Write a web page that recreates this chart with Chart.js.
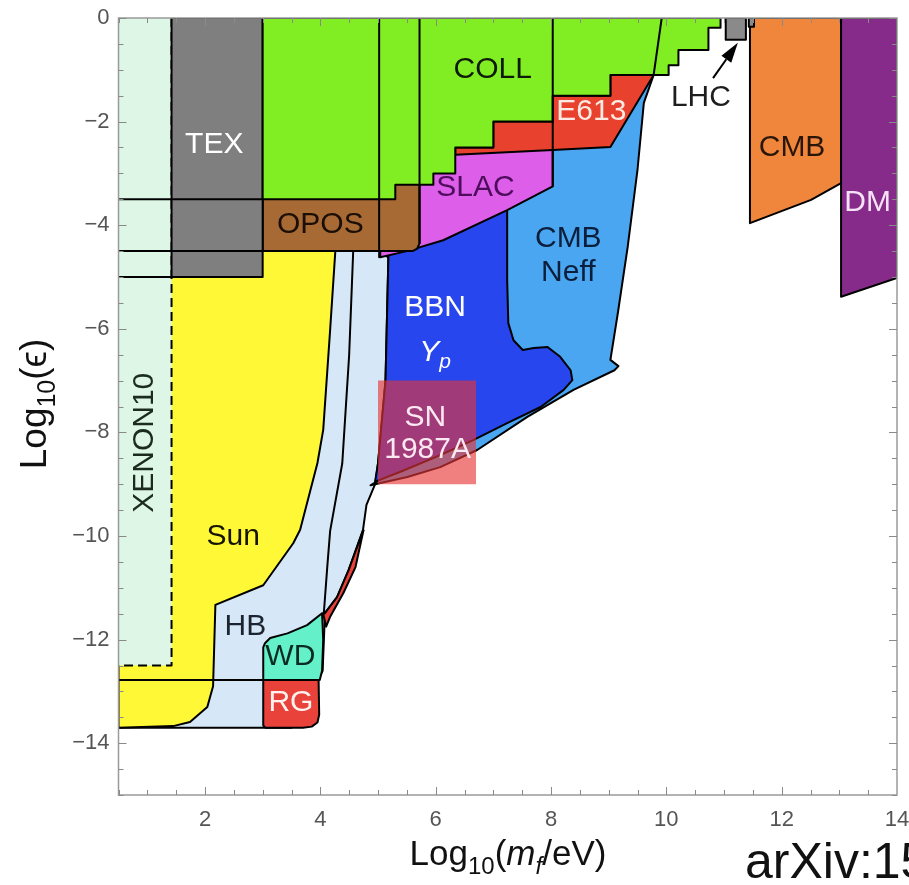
<!DOCTYPE html>
<html><head><meta charset="utf-8">
<script src="https://cdn.jsdelivr.net/npm/chart.js@4.4.1/dist/chart.umd.min.js"></script>
<style>html,body{margin:0;padding:0;background:#fff;}#wrap{width:909px;height:885px;}</style>
</head><body><div id="wrap"><canvas id="c" width="909" height="885"></canvas></div>
<script>
// ---------- axis ticks ----------
const xTickValues = [2, 4, 6, 8, 10, 12, 14];
const yTickValues = [0, -2, -4, -6, -8, -10, -12, -14];

// ---------- exclusion regions: [log10(m/eV), log10(eps)] ----------
const hbRegion = [[0.5,-4.5],[5.05,-4.5],[5.18,-4.63],[5.13,-7.0],[5.0,-8.6],[4.95,-9.0],[4.8,-9.4],[4.74,-9.88],[4.49,-10.66],[4.29,-11.18],[4.08,-11.49],[4.04,-12.6],[3.9,-12.9],[3.5,-13.7],[0.5,-13.7],[0.5,-4.5]];
const rgRegion = [[3.01,-12.78],[3.97,-12.78],[3.98,-13.45],[3.95,-13.6],[3.85,-13.68],[3.7,-13.7],[3.05,-13.7],[3.01,-13.66],[3.01,-12.78]];
const rgSliver = [[4.75,-9.88],[4.61,-10.6],[4.40,-11.1],[4.17,-11.56],[4.1,-11.75],[4.05,-11.5],[4.08,-11.49],[4.29,-11.18],[4.49,-10.66],[4.74,-9.9],[4.75,-9.88]];
const wdRegion = [[3.01,-12.78],[3.01,-12.15],[3.04,-12.07],[3.13,-11.97],[3.43,-11.88],[3.77,-11.72],[4.03,-11.49],[4.05,-12.0],[4.03,-12.6],[3.99,-12.78],[3.01,-12.78]];
const wdEdge = [[4.57,-4.5],[4.5,-6.5],[4.38,-8.6],[4.17,-9.9],[4.12,-10.6],[4.06,-11.5]];
const sunRegion = [[0.5,-4.5],[4.26,-4.5],[4.17,-6.02],[4.05,-7.95],[3.95,-8.59],[3.65,-9.88],[3.53,-10.14],[3.01,-10.95],[2.18,-11.33],[2.14,-12.9],[2.04,-13.3],[1.74,-13.59],[1.45,-13.67],[0.5,-13.7],[0.5,-4.5]];
const xenonRegion = [[0.5,0],[1.42,0],[1.42,-12.5],[0.5,-12.5]];
const xenonEdge = [[1.42,0],[1.42,-12.5],[0.5,-12.5]];
const texRegion = [[1.42,0],[3.0,0],[3.0,-5.0],[1.42,-5.0],[1.42,0]];
const oposRegion = [[3.0,-3.0],[5.72,-3.0],[5.72,-4.35],[5.68,-4.45],[5.6,-4.5],[3.0,-4.5],[3.0,-3.0]];
const collRegion = [[3.0,0],[10.94,0],[10.94,-0.19],[10.73,-0.19],[10.73,-0.62],[10.21,-0.62],[10.21,-0.91],[10.04,-0.91],[10.04,-1.1],[9.03,-1.1],[9.03,-1.5],[8.03,-1.5],[8.03,-2.0],[7.0,-2.0],[7.0,-2.5],[6.34,-2.5],[6.34,-3.0],[5.96,-3.0],[5.96,-3.22],[5.3,-3.22],[5.3,-3.5],[3.0,-3.5],[3.0,0]];
const slacRegion = [[5.02,-2.45],[8.03,-2.45],[8.03,-3.25],[7.24,-3.71],[6.13,-4.29],[5.5,-4.5],[5.04,-4.62],[5.02,-2.45]];
const e613Region = [[6.34,-2.5],[7.0,-2.5],[7.0,-2.0],[8.03,-2.0],[8.03,-1.5],[9.03,-1.5],[9.03,-1.1],[9.78,-1.1],[9.03,-2.49],[8.03,-2.55],[6.34,-2.64],[6.34,-2.5]];
const cmbNeffRegion = [[9.85,-0.5],[9.78,-1.1],[9.61,-1.64],[9.5,-2.93],[9.33,-4.42],[9.16,-5.69],[9.03,-6.6],[9.17,-6.72],[9.1,-6.8],[8.39,-7.18],[7.59,-7.70],[6.72,-8.34],[6.08,-8.67],[5.51,-8.86],[4.87,-9.02],[5.2,-8.8],[5.5,-4.4],[6.5,-2.6],[9.0,-2.4],[9.85,-0.5]];
const bbnRegion = [[5.18,-4.4],[7.24,-3.5],[7.24,-5.06],[7.26,-5.89],[7.35,-6.22],[7.51,-6.41],[7.70,-6.37],[7.94,-6.35],[8.16,-6.54],[8.34,-6.80],[8.37,-6.99],[8.22,-7.18],[7.82,-7.51],[7.24,-7.82],[6.65,-8.15],[6.08,-8.44],[5.39,-8.76],[4.95,-8.95],[5.0,-8.6],[5.13,-7.0],[5.18,-4.63],[5.18,-4.4]];
const snRegion = [[5.0,-7.0],[6.7,-7.0],[6.7,-9.0],[5.0,-9.0]];
const lhcRegion = [[11.03,0],[11.38,0],[11.38,-0.42],[11.03,-0.42],[11.03,0]];
const lhcRegion2 = [[11.43,0],[11.52,0],[11.52,-0.17],[11.43,-0.17],[11.43,0]];
const cmbRegion = [[11.45,0],[13.03,0],[13.03,-3.19],[12.51,-3.51],[11.45,-3.96],[11.45,0]];
const dmRegion = [[13.03,0],[14,0],[14,-5.02],[13.03,-5.38],[13.03,0]];
// boundaries that show through other regions
const edgeEps35 = [[0.5,-3.5],[3.0,-3.5]];
const edgeEps45 = [[0.5,-4.5],[3.0,-4.5]];
const edgeEps5 = [[0.5,-5.0],[1.42,-5.0]];
const edgeEps1278 = [[0.5,-12.78],[3.01,-12.78]];
const edgeSlacLeft = [[5.02,0],[5.02,-4.62]];
const edgeOposRight = [[5.72,0],[5.72,-4.35]];
const edgeSlacRight = [[8.03,0],[8.03,-3.25]];
const edgeNeffTop = [[9.92,0],[9.78,-1.1]];
// LHC pointer
const lhcArrow = [[10.81,-1.16],[11.24,-0.48]];

// ---------- styling (bottom layer first) ----------
const layers = [
  {d: hbRegion, c: '#d6e8f8'},
  {d: rgRegion, c: '#e8423a'},
  {d: rgSliver, c: '#e8423a'},
  {d: wdRegion, c: '#64f0c8'},
  {d: wdEdge},
  {d: sunRegion, c: '#fff836'},
  {d: xenonRegion, c: '#ddf6e5', noBorder: true},
  {d: xenonEdge, dash: [9, 5]},
  {d: cmbNeffRegion, c: '#4aa6f0'},
  {d: bbnRegion, c: '#2846ee'},
  {d: snRegion, c: 'rgba(231,53,53,0.63)', noBorder: true},
  {d: slacRegion, c: '#dd5ee8'},
  {d: e613Region, c: '#e8422e'},
  {d: oposRegion, c: '#a86a35'},
  {d: texRegion, c: '#7f7f7f'},
  {d: collRegion, c: '#80ee22'},
  {d: cmbRegion, c: '#f0863c'},
  {d: dmRegion, c: '#862b8a'},
  {d: lhcRegion, c: '#8a8a8a'},
  {d: lhcRegion2, c: '#8a8a8a'},
  {d: edgeEps35}, {d: edgeEps45}, {d: edgeEps5}, {d: edgeEps1278},
  {d: edgeSlacLeft}, {d: edgeOposRight}, {d: edgeSlacRight}, {d: edgeNeffTop}
];

const datasets = layers.map(l => ({
  data: l.d.map(p => ({x: p[0], y: p[1]})),
  showLine: true,
  fill: l.c ? 'shape' : false,
  backgroundColor: l.c || 'rgba(0,0,0,0)',
  borderColor: l.noBorder ? 'rgba(0,0,0,0)' : '#000',
  borderWidth: l.noBorder ? 0 : 2,
  borderDash: l.dash || [],
  borderJoinStyle: 'round',
  pointRadius: 0, pointHoverRadius: 0,
  tension: 0, clip: 0
})).reverse();

const FAM = '"Liberation Sans", Arial, sans-serif';
const regionLabels = [
  {t: 'TEX', x: 2.16, y: -2.45, c: '#ffffff'},
  {t: 'COLL', x: 6.99, y: -1.0, c: '#0e1a08'},
  {t: 'E613', x: 8.70, y: -1.80, c: '#fbe9e4'},
  {t: 'LHC', x: 10.6, y: -1.53, c: '#1e1e1e'},
  {t: 'CMB', x: 12.18, y: -2.5, c: '#2a1608'},
  {t: 'DM', x: 13.49, y: -3.56, c: '#f5e2f5'},
  {t: 'OPOS', x: 4.0, y: -4.0, c: '#1a0e05'},
  {t: 'SLAC', x: 6.69, y: -3.27, c: '#4e0c5c'},
  {t: 'CMB', x: 8.30, y: -4.27, c: '#0b1e3c'},
  {t: 'Neff', x: 8.30, y: -4.92, c: '#0b1e3c'},
  {t: 'BBN', x: 5.99, y: -5.6, c: '#ffffff'},
  {t: 'SN', x: 5.82, y: -7.71, c: '#fbe8f0'},
  {t: '1987A', x: 5.86, y: -8.34, c: '#fbe8f0'},
  {t: 'Sun', x: 2.49, y: -10.02, c: '#141400'},
  {t: 'HB', x: 2.7, y: -11.76, c: '#1c2430'},
  {t: 'WD', x: 3.48, y: -12.34, c: '#0b2a22'},
  {t: 'RG', x: 3.49, y: -13.22, c: '#fff2ee'}
];

function fontOf(p) { return (p.italic ? 'italic ' : '') + p.size + 'px ' + FAM; }
function drawRich(ctx, parts, cx, base) {
  let w = 0;
  for (const p of parts) { ctx.font = fontOf(p); w += ctx.measureText(p.t).width; }
  let x = cx - w / 2;
  ctx.textAlign = 'left'; ctx.textBaseline = 'alphabetic';
  for (const p of parts) {
    ctx.font = fontOf(p);
    ctx.fillText(p.t, x, base + (p.dy || 0));
    x += ctx.measureText(p.t).width;
  }
}

const overlay = {
  id: 'overlay',
  afterDraw(chart) {
    const {ctx, chartArea: a, scales: {x, y}} = chart;
    ctx.save();
    // frame + inward ticks
    ctx.strokeStyle = '#9a9a9a'; ctx.lineWidth = 1.5;
    ctx.strokeRect(a.left, a.top, a.right - a.left, a.bottom - a.top);
    ctx.lineWidth = 1; ctx.strokeStyle = '#8a8a8a';
    ctx.beginPath();
    for (let i = 1; i <= 27; i++) {
      const v = i * 0.5;
      const px = Math.round(x.getPixelForValue(v)) + 0.5;
      const len = xTickValues.includes(v) ? 8 : 5;
      ctx.moveTo(px, a.bottom); ctx.lineTo(px, a.bottom - len);
      ctx.moveTo(px, a.top); ctx.lineTo(px, a.top + len);
    }
    for (let i = 0; i <= 30; i++) {
      const v = -i * 0.5;
      const py = Math.round(y.getPixelForValue(v)) + 0.5;
      const len = yTickValues.includes(v) ? 8 : 5;
      ctx.moveTo(a.left, py); ctx.lineTo(a.left + len, py);
      ctx.moveTo(a.right, py); ctx.lineTo(a.right - len, py);
    }
    ctx.stroke();

    // region labels
    ctx.textAlign = 'center'; ctx.textBaseline = 'middle';
    ctx.font = '30px ' + FAM;
    for (const l of regionLabels) {
      ctx.fillStyle = l.c;
      ctx.fillText(l.t, x.getPixelForValue(l.x), y.getPixelForValue(l.y));
    }
    // Y_p
    ctx.fillStyle = '#ffffff';
    drawRich(ctx, [{t: 'Y', size: 30, italic: true}, {t: 'p', size: 21, italic: true, dy: 7}],
      x.getPixelForValue(5.99), y.getPixelForValue(-6.41) + 11);
    // XENON10 rotated
    ctx.save();
    ctx.translate(x.getPixelForValue(0.96), y.getPixelForValue(-8.2));
    ctx.rotate(-Math.PI / 2);
    ctx.fillStyle = '#1c2c1c'; ctx.textAlign = 'center'; ctx.textBaseline = 'middle';
    ctx.font = '30px ' + FAM;
    ctx.fillText('XENON10', 0, 0);
    ctx.restore();

    // LHC arrow
    const x0 = x.getPixelForValue(lhcArrow[0][0]), y0 = y.getPixelForValue(lhcArrow[0][1]);
    const x1 = x.getPixelForValue(lhcArrow[1][0]), y1 = y.getPixelForValue(lhcArrow[1][1]);
    const ang = Math.atan2(y1 - y0, x1 - x0);
    const hl = 20, hw = 6;
    ctx.strokeStyle = '#000'; ctx.lineWidth = 2;
    ctx.beginPath(); ctx.moveTo(x0, y0);
    ctx.lineTo(x1 - hl * Math.cos(ang), y1 - hl * Math.sin(ang)); ctx.stroke();
    ctx.fillStyle = '#000';
    ctx.beginPath();
    ctx.moveTo(x1, y1);
    ctx.lineTo(x1 - hl * Math.cos(ang) + hw * Math.sin(ang), y1 - hl * Math.sin(ang) - hw * Math.cos(ang));
    ctx.lineTo(x1 - hl * Math.cos(ang) - hw * Math.sin(ang), y1 - hl * Math.sin(ang) + hw * Math.cos(ang));
    ctx.closePath(); ctx.fill();

    // axis titles
    ctx.fillStyle = '#111';
    drawRich(ctx, [
      {t: 'Log', size: 35}, {t: '10', size: 24, dy: 9}, {t: '(', size: 35},
      {t: 'm', size: 35, italic: true}, {t: 'f', size: 24, italic: true, dy: 9},
      {t: '/eV)', size: 35}
    ], 508, 865);
    ctx.save();
    ctx.translate(46, 404);
    ctx.rotate(-Math.PI / 2);
    drawRich(ctx, [{t: 'Log', size: 37}, {t: '10', size: 25, dy: 9}, {t: '(\u03F5)', size: 37}], 0, 0);
    ctx.restore();
    // source note
    ctx.font = '50px ' + FAM; ctx.textAlign = 'left'; ctx.textBaseline = 'alphabetic';
    ctx.fillText('arXiv:15', 745, 878);
    ctx.restore();
  }
};

const tickFmt = v => (v < 0 ? '\u2212' + Math.abs(v) : String(v));

new Chart(document.getElementById('c'), {
  type: 'scatter',
  data: {datasets},
  options: {
    responsive: false, animation: false, devicePixelRatio: 1, events: [],
    layout: {padding: {top: 18, right: 12, left: 0, bottom: 0}},
    plugins: {legend: {display: false}, tooltip: {enabled: false}},
    scales: {
      x: {
        type: 'linear', min: 0.5, max: 14,
        grid: {display: false, drawTicks: false}, border: {display: false},
        afterBuildTicks: s => { s.ticks = xTickValues.map(v => ({value: v})); },
        afterFit: s => { s.height = 90; s.paddingLeft = 0; s.paddingRight = 0; },
        ticks: {padding: 12, color: '#555', font: {family: FAM, size: 22}, callback: tickFmt, maxRotation: 0, autoSkip: false}
      },
      y: {
        type: 'linear', min: -15, max: 0,
        grid: {display: false, drawTicks: false}, border: {display: false},
        afterBuildTicks: s => { s.ticks = yTickValues.map(v => ({value: v})); },
        afterFit: s => { s.width = 118.5; s.paddingTop = 0; s.paddingBottom = 0; },
        ticks: {padding: 9, color: '#555', font: {family: FAM, size: 22}, callback: tickFmt, autoSkip: false}
      }
    }
  },
  plugins: [overlay]
});
</script></body></html>
